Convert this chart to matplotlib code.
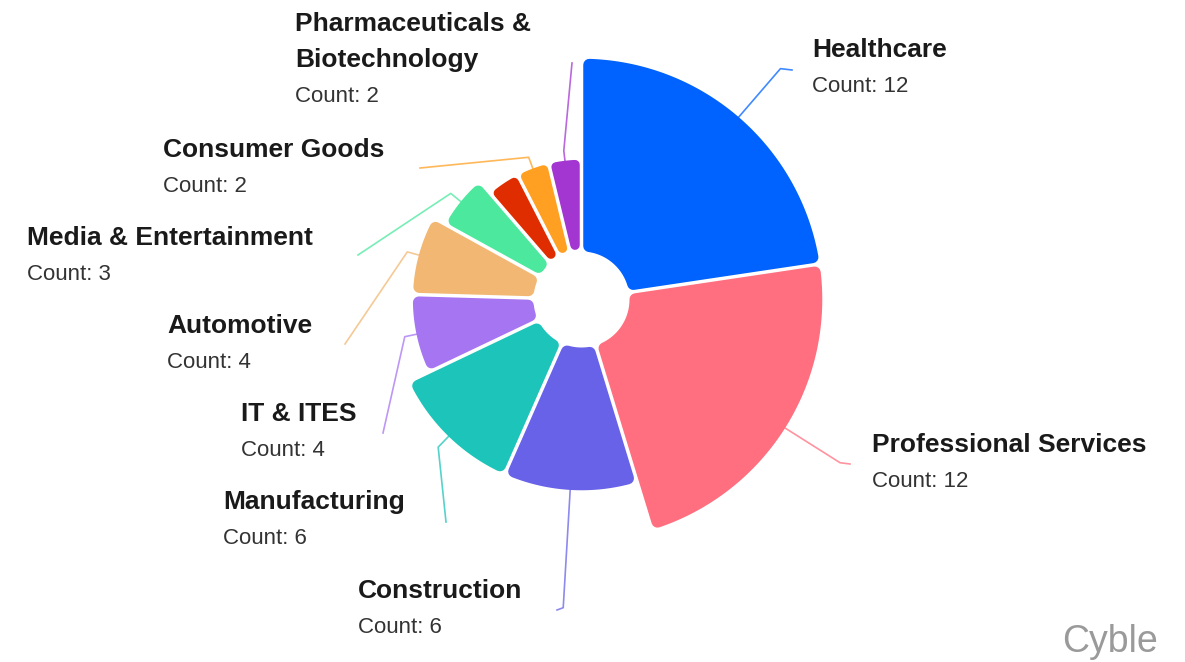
import numpy as np
import matplotlib.pyplot as plt
from matplotlib.patches import Polygon

plt.rcParams["font.family"] = ["Liberation Sans", "DejaVu Sans"]

# data (clockwise from 12 o'clock)
sectors = ["Healthcare", "Professional Services", "Construction", "Manufacturing",
           "IT & ITES", "Automotive", "Media & Entertainment", "Other",
           "Consumer Goods", "Pharmaceuticals &\nBiotechnology"]
counts = [12, 12, 6, 6, 4, 4, 3, 2, 2, 2]
show_label = [True, True, True, True, True, True, True, False, True, True]
colors = ["#0062ff", "#ff6f7f", "#6762e8", "#1cc4b9", "#a675f2",
          "#f2b773", "#4be89e", "#e02d00", "#ffa022", "#a335d1"]

# layout, in pixels
CX, CY = 581.5, 299.5
R_IN = 48
R_BASE, R_SCALE = 70, 49.3   # outer radius = R_BASE + R_SCALE * sqrt(count)
GAP = 3.5
CORNER = 6

# (radial leader length, leader end x, leader end y, text x, text baseline y)
label_layout = [
    (64, 792, 70, 812, 57),
    (65, 850, 464, 872, 452),
    (118, 557, 610, 358, 598),
    (15, 446, 522, 223, 509),
    (12, 383, 433, 241, 421),
    (12, 345, 344, 167, 333),
    (13, 358, 255, 27, 245),
    None,
    (12, 420, 168, 163, 157),
    (10, 572, 63, 295, 31),
]

fig = plt.figure(figsize=(11.85, 6.62), dpi=100)
ax = fig.add_axes([0, 0, 1, 1])
ax.set_xlim(0, 1185)
ax.set_ylim(662, 0)
ax.axis("off")


def pt(r, ang):
    a = np.radians(ang)
    return CX + r * np.cos(a), CY - r * np.sin(a)


def rounded_sector(r0, r1, a_hi, a_lo, color):
    # shrink the sector by d, then stroke it back out with round joins
    half = np.radians(a_hi - a_lo) / 2
    s = np.sin(half)
    # thin slices get a smaller corner so the tip still reaches the hole
    d = min(CORNER, (r0 + 2 - GAP / 2 / s) / (1 / s - 1))
    off = GAP / 2 + d
    ri, ro = r0 + d, r1 - d
    di = np.degrees(np.arcsin(min(off / ri, 1)))
    do = np.degrees(np.arcsin(off / ro))
    if a_hi - di > a_lo + di:
        inner = [pt(ri, a) for a in np.linspace(a_lo + di, a_hi - di, 30)]
    else:
        inner = [pt(off / s, (a_hi + a_lo) / 2)]
    outer = [pt(ro, a) for a in np.linspace(a_hi - do, a_lo + do, 80)]
    ax.add_patch(Polygon(inner + outer, closed=True, facecolor=color, edgecolor=color,
                         linewidth=2 * d * 72 / fig.dpi, joinstyle="round", zorder=3))


total = sum(counts)
start = 90.0
for name, c, col, show, lay in zip(sectors, counts, colors, show_label, label_layout):
    sweep = 360.0 * c / total
    a_hi, a_lo = start, start - sweep
    start = a_lo
    r_out = R_BASE + R_SCALE * np.sqrt(c)
    rounded_sector(R_IN, r_out, a_hi, a_lo, col)

    if not show:
        continue
    ext, ex, ey, tx, ty = lay
    mid = (a_hi + a_lo) / 2
    x0, y0 = pt(r_out, mid)
    x1, y1 = pt(r_out + ext, mid)
    ax.plot([x0, x1, ex], [y0, y1, ey], color=col, lw=1.2, alpha=0.75, zorder=2)

    lines = name.split("\n")
    for i, line in enumerate(lines):
        ax.text(tx, ty + i * 36, line, fontsize=19, fontweight="bold", color="#1a1a1a",
                ha="left", va="baseline")
    ax.text(tx, ty + (len(lines) - 1) * 36 + 35, f"Count: {c}", fontsize=16, color="#333333",
            ha="left", va="baseline")

ax.text(1062, 652, "Cyble", fontsize=27, color="#9a9a9a", ha="left", va="baseline")

fig.savefig("out.png", dpi=100, facecolor="white")
